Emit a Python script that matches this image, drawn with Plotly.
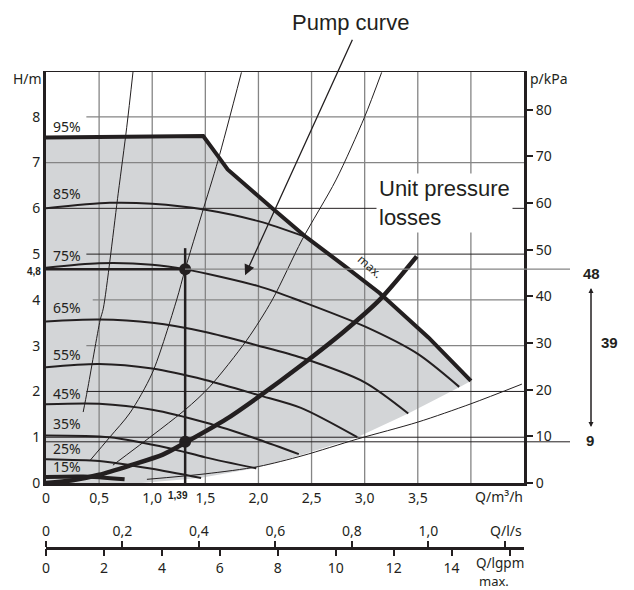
import plotly.graph_objects as go

# ---------------- data ----------------
KPA_PER_M = 9.81
M3H_PER_LS = 3.6
M3H_PER_GPM = 0.272765

q_ticks = [0, 0.5, 1.0, 1.5, 2.0, 2.5, 3.0, 3.5]
q_ticktext = ["0", "0,5", "1,0", "1,5", "2,0", "2,5", "3,0", "3,5"]
h_ticks = [0, 1, 2, 3, 4, 5, 6, 7, 8]
kpa_ticks = [0, 10, 20, 30, 40, 50, 60, 70, 80]
ls_ticks = [0, 0.2, 0.4, 0.6, 0.8, 1.0, 1.2]
ls_ticktext = ["0", "0,2", "0,4", "0,6", "0,8", "1,0", ""]
gpm_ticks = [0, 2, 4, 6, 8, 10, 12, 14, 16]
gpm_ticktext = ["0", "2", "4", "6", "8", "10", "12", "14", ""]

# max pump curve (95 %)
Q_max = [0, 0.5, 1.0, 1.48, 1.6, 1.71, 2.13, 2.45, 2.8, 3.14, 3.6, 4.0]
H_max = [7.55, 7.56, 7.57, 7.58, 7.2, 6.85, 6.0, 5.37, 4.76, 4.15, 3.18, 2.23]

# lower edge of grey working area
Q_edge = [0.9, 1.45, 1.98, 2.42, 2.93, 3.41, 3.9, 4.0]
H_edge = [0.0, 0.11, 0.33, 0.62, 1.0, 1.52, 2.1, 2.23]

# speed curves
speed_labels = ["95%", "85%", "75%", "65%", "55%", "45%", "35%", "25%", "15%"]
label_H = [7.78, 6.33, 4.98, 3.84, 2.80, 1.95, 1.31, 0.75, 0.36]

Q_85 = [0, 0.6, 1.0, 1.5, 2.0, 2.45]
H_85 = [6.0, 6.12, 6.1, 5.97, 5.72, 5.37]
Q_75 = [0, 0.5, 1.0, 1.31, 2.0, 2.4, 3.0, 3.5, 3.89]
H_75 = [4.7, 4.8, 4.77, 4.67, 4.3, 3.97, 3.42, 2.82, 2.1]
Q_65 = [0, 0.5, 1.0, 1.5, 2.0, 2.4, 3.0, 3.41]
H_65 = [3.53, 3.57, 3.5, 3.3, 3.0, 2.74, 2.2, 1.52]
Q_55 = [0, 0.5, 1.0, 1.5, 2.0, 2.4, 2.93]
H_55 = [2.53, 2.6, 2.5, 2.25, 1.92, 1.64, 1.0]
Q_45 = [0, 0.5, 1.0, 1.5, 2.0, 2.38]
H_45 = [1.72, 1.73, 1.6, 1.32, 0.95, 0.63]
Q_35 = [0, 0.6, 1.16, 1.5, 1.98]
H_35 = [1.04, 1.0, 0.76, 0.56, 0.32]
Q_25 = [0, 0.5, 0.79, 1.0, 1.46]
H_25 = [0.52, 0.48, 0.39, 0.31, 0.11]
Q_15 = [0, 0.35, 0.74]
H_15 = [0.13, 0.14, 0.08]

# thin resistance curves
Q_A = [0.35, 0.39, 0.51, 0.54, 0.68, 0.76, 0.82]
H_A = [1.55, 2.03, 3.56, 3.82, 6.33, 7.77, 9.0]
Q_B = [0.41, 0.6, 0.79, 1.0, 1.23, 1.31, 1.47, 1.62, 1.84]
H_B = [0.48, 1.0, 1.53, 2.4, 4.0, 4.67, 5.9, 7.05, 8.97]
Q_C = [0.63, 1.31, 1.54, 1.89, 2.13, 2.41, 2.73, 3.0, 3.16]
H_C = [0.39, 1.6, 2.1, 3.12, 4.0, 5.31, 6.62, 8.0, 8.97]
Q_low = [0.95, 1.5, 2.0, 2.42, 2.93, 3.5, 4.0, 4.48]
H_low = [0.08, 0.2, 0.36, 0.6, 0.96, 1.33, 1.73, 2.16]

# unit pressure losses (thick)
Q_sys = [0, 0.25, 0.5, 0.8, 1.1, 1.31, 1.7, 2.0, 2.39, 2.8, 3.14, 3.49]
H_sys = [0, 0.06, 0.18, 0.39, 0.62, 0.88, 1.4, 1.88, 2.55, 3.3, 4.0, 4.95]

# operating point
Q_op = 1.31
H_op_pump = 4.67
H_op_unit = 0.9
H_op_top = 5.13

# ---------------- figure ----------------
INK = "#231f20"
GRID = "#858585"
FONT = "Noto Sans"

fig = go.Figure()

# grey working area
fig.add_trace(go.Scatter(
    x=Q_max + Q_edge[::-1] + [0], y=H_max + H_edge[::-1] + [0],
    fill="toself", fillcolor="#d3d5d7", mode="lines", line=dict(width=0),
    hoverinfo="skip", showlegend=False))

# grid (drawn as traces so they lie above the grey area)
vx, vy = [], []
for q in [0.5, 1.0, 1.5, 2.0, 2.5, 3.0, 3.5, 4.0]:
    vx += [q, q, None]
    vy += [0, 9, None]
fig.add_trace(go.Scatter(x=vx, y=vy, mode="lines", line=dict(color=GRID, width=1.3),
                         hoverinfo="skip", showlegend=False))
grid_gray = [(8, 0.38), (7, 0.0), (4, 0.44), (3, 0.38)]
grid_black = [(6, 0.0), (5, 0.38), (2, 0.38), (1, 0.0)]
gx, gy = [], []
for h, q0 in grid_gray:
    gx += [q0, 4.5, None]
    gy += [h, h, None]
fig.add_trace(go.Scatter(x=gx, y=gy, mode="lines", line=dict(color=GRID, width=1.3),
                         hoverinfo="skip", showlegend=False))
bx, by = [], []
for h, q0 in grid_black:
    bx += [q0, 4.5, None]
    by += [h, h, None]
fig.add_trace(go.Scatter(x=bx, y=by, mode="lines", line=dict(color=INK, width=1),
                         hoverinfo="skip", showlegend=False))

def add_line(x, y, w, shape="spline"):
    fig.add_trace(go.Scatter(x=x, y=y, mode="lines",
                             line=dict(color=INK, width=w, shape=shape, smoothing=0.8),
                             hoverinfo="skip", showlegend=False))

# thin resistance curves
for qx, hy in [(Q_A, H_A), (Q_B, H_B), (Q_C, H_C), (Q_low, H_low)]:
    add_line(qx, hy, 1.0)

# speed curves
for qx, hy in [(Q_85, H_85), (Q_75, H_75), (Q_65, H_65), (Q_55, H_55),
               (Q_45, H_45), (Q_35, H_35), (Q_25, H_25)]:
    add_line(qx, hy, 2.0)
add_line(Q_15, H_15, 4.0)

# max curve
add_line(Q_max, H_max, 4.0, shape="linear")

# unit pressure losses
add_line(Q_sys, H_sys, 4.5)

# operating point construction
add_line([0, Q_op], [H_op_pump, H_op_pump], 2.5, shape="linear")
add_line([Q_op, Q_op], [0, H_op_top], 2.5, shape="linear")
fig.add_trace(go.Scatter(x=[Q_op, Q_op], y=[H_op_pump, H_op_unit], mode="markers",
                         marker=dict(color=INK, size=12), hoverinfo="skip", showlegend=False))

# dummy traces to carry the secondary axes
fig.add_trace(go.Scatter(x=[0, 1.25], y=[0, 0], xaxis="x2", yaxis="y", mode="markers",
                         marker=dict(opacity=0), hoverinfo="skip", showlegend=False))
fig.add_trace(go.Scatter(x=[0, 16], y=[0, 0], xaxis="x3", yaxis="y", mode="markers",
                         marker=dict(opacity=0), hoverinfo="skip", showlegend=False))
fig.add_trace(go.Scatter(x=[0, 4.5], y=[0, 80], xaxis="x", yaxis="y2", mode="markers",
                         marker=dict(opacity=0), hoverinfo="skip", showlegend=False))

YDOM0 = (548 - 483) / 477

fig.update_layout(
    template="none",
    width=634, height=590,
    margin=dict(l=46, r=110, t=71, b=42, autoexpand=False),
    paper_bgcolor="white", plot_bgcolor="white",
    font=dict(family=FONT, size=14, color=INK),
    showlegend=False,
    xaxis=dict(range=[0, 4.5], domain=[0, 1], anchor="y", showgrid=False, zeroline=False,
               showline=True, linewidth=3, linecolor=INK, ticks="", automargin=False,
               tickvals=q_ticks, ticktext=q_ticktext, tickfont=dict(size=14)),
    yaxis=dict(range=[0, 9], domain=[YDOM0, 1], anchor="x", showgrid=False, zeroline=False,
               showline=True, linewidth=3, linecolor=INK, ticks="", automargin=False,
               tickvals=h_ticks, tickfont=dict(size=14)),
    yaxis2=dict(range=[0, 9 * KPA_PER_M], overlaying="y", side="right", anchor="x",
                showgrid=False, zeroline=False, showline=True, linewidth=3, linecolor=INK,
                ticks="outside", ticklen=6, tickwidth=2, tickcolor=INK, automargin=False,
                tickvals=kpa_ticks, tickfont=dict(size=14)),
    xaxis2=dict(range=[0, 4.5 / M3H_PER_LS], overlaying="x", anchor="free", position=0,
                side="top", showgrid=False, zeroline=False, showline=True, linewidth=2.5,
                linecolor=INK, ticks="outside", ticklen=6, tickwidth=1.5, tickcolor=INK,
                automargin=False,
                tickvals=ls_ticks, ticktext=ls_ticktext, tickfont=dict(size=14)),
    xaxis3=dict(range=[0, 4.5 / M3H_PER_GPM], overlaying="x", anchor="free", position=0,
                side="bottom", showgrid=False, zeroline=False, showline=False,
                ticks="outside", ticklen=7, tickwidth=1.5, tickcolor=INK, automargin=False,
                tickvals=gpm_ticks, ticktext=gpm_ticktext, tickfont=dict(size=14)),
)

shapes = [
    # top border
    dict(type="line", xref="paper", yref="y", x0=0, x1=1, y0=9, y1=9,
         line=dict(color=INK, width=2)),
    # extended reading lines
    dict(type="line", xref="paper", yref="y", x0=(185 - 46) / 478, x1=(570 - 46) / 478,
         y0=H_op_pump, y1=H_op_pump, line=dict(color=GRID, width=1.3), layer="above"),
    dict(type="line", xref="paper", yref="y", x0=0, x1=(570 - 46) / 478,
         y0=H_op_unit, y1=H_op_unit, line=dict(color=INK, width=1), layer="above"),
]
fig.update_layout(shapes=shapes)

ann = []
for lab, h in zip(speed_labels, label_H):
    ann.append(dict(x=0.047, y=h, xref="x", yref="y", text=lab, showarrow=False,
                    xanchor="left", yanchor="middle", font=dict(size=14, family=FONT)))

def pax(px):
    return (px - 46) / 478

def pay(py):
    return (548 - py) / 477

def txt(px, py, text, size=14, family=FONT, xanchor="center", **kw):
    d = dict(x=pax(px), y=pay(py), xref="paper", yref="paper", text=text,
             showarrow=False, xanchor=xanchor, yanchor="middle",
             font=dict(size=size, family=family))
    d.update(kw)
    return d

ann += [
    txt(27, 79, "H/m"),
    txt(549, 78, "p/kPa"),
    txt(525, 496, "Q/m³/h", xanchor="right"),
    txt(524, 530, "Q/l/s", xanchor="right"),
    txt(526, 563, "Q/lgpm", size=13.5, xanchor="right"),
    txt(494, 581, "max.", size=13),
    txt(178, 495, "<b>1,39</b>", size=10, family="Liberation Sans"),
    txt(34, 271, "<b>4,8</b>", size=10, family="Liberation Sans"),
    txt(591, 273, "<b>48</b>", size=15, family="Liberation Sans"),
    txt(609, 342, "<b>39</b>", size=15, family="Liberation Sans"),
    txt(590, 440, "<b>9</b>", size=15, family="Liberation Sans"),
    # double arrow
    dict(x=pax(591), y=pay(288), xref="paper", yref="paper", ax=0, ay=139,
         showarrow=True, arrowhead=2, arrowsize=1, arrowwidth=1, arrowcolor=INK, text=""),
    dict(x=pax(591), y=pay(427), xref="paper", yref="paper", ax=0, ay=-139,
         showarrow=True, arrowhead=2, arrowsize=1, arrowwidth=1, arrowcolor=INK, text=""),
    # pump curve label and leader
    txt(350, 22, "Pump curve", size=22, family="Liberation Sans"),
    dict(x=1.874, y=4.54, xref="x", yref="y", ax=108, ay=-237, text="",
         showarrow=True, arrowhead=2, arrowsize=1.6, arrowwidth=1.3, arrowcolor=INK),
    # unit pressure losses label
    dict(x=pax(376), y=6.11, xref="paper", yref="y", text="Unit pressure<br>losses",
         showarrow=False, xanchor="left", yanchor="middle", align="left",
         bgcolor="white", borderpad=2, font=dict(size=22, family="Liberation Sans")),
    # max label
    dict(x=3.05, y=4.72, xref="x", yref="y", text="max.", showarrow=False,
         xanchor="center", yanchor="middle",
         textangle=42, font=dict(size=12, family=FONT)),
]
fig.update_layout(annotations=ann)

fig.write_html("out.html", config={"displayModeBar": False},
               post_script="document.body.style.margin='0px';document.body.style.overflow='hidden';")
